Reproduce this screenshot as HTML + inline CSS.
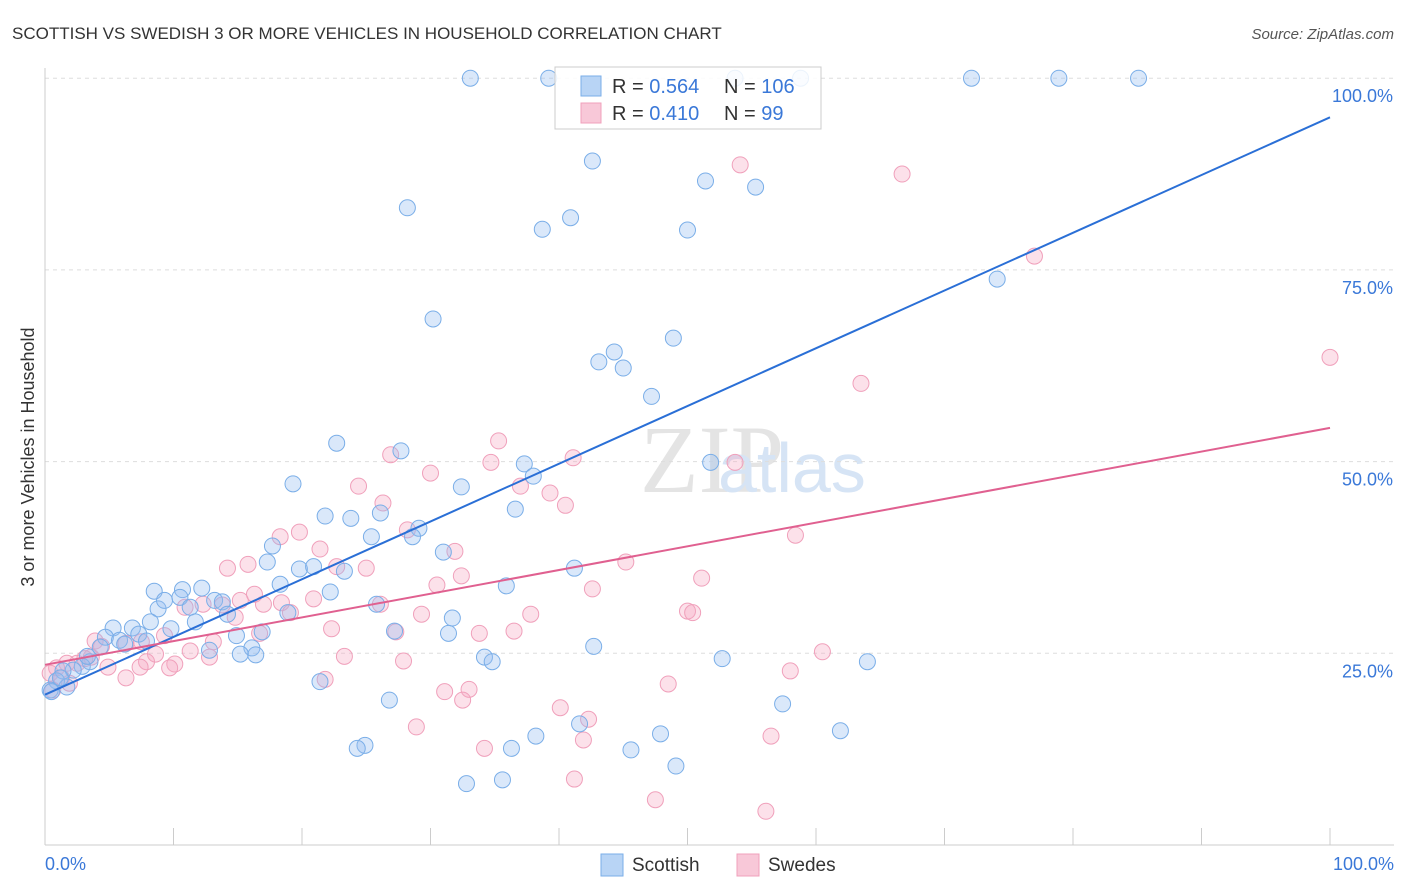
<!DOCTYPE html>
<html><head><meta charset="utf-8"><style>
body{margin:0;background:#fff;font-family:"Liberation Sans",sans-serif;}
svg{display:block}
</style></head><body>
<svg id="chart" width="1406" height="892" xmlns="http://www.w3.org/2000/svg">
<text x="12" y="39" font-size="17" fill="#333">SCOTTISH VS SWEDISH 3 OR MORE VEHICLES IN HOUSEHOLD CORRELATION CHART</text>
<text x="1394" y="39" font-size="15" fill="#555" font-style="italic" text-anchor="end">Source: ZipAtlas.com</text>
<text x="0" y="0" transform="translate(34,457) rotate(-90)" font-size="18" fill="#333" text-anchor="middle">3 or more Vehicles in Household</text>
<text x="640" y="492" font-size="96" fill="#e4e4e4" font-family="Liberation Serif">ZIP</text>
<text x="718" y="492" font-size="70" fill="#d6e4f5">atlas</text>
<g id="grid"></g><g id="marks"></g>
<g>
<rect x="555" y="67" width="266" height="62" fill="rgba(255,255,255,0.85)" stroke="#ccc"/>
<rect x="581" y="76" width="20" height="20" fill="#b8d4f5" stroke="#7aaee8"/>
<rect x="581" y="103" width="20" height="20" fill="#f8c8d8" stroke="#f0a0bb"/>
<text x="612" y="93" font-size="20" fill="#333">R = <tspan fill="#3a78d8">0.564</tspan></text>
<text x="724" y="93" font-size="20" fill="#333">N = <tspan fill="#3a78d8">106</tspan></text>
<text x="612" y="120" font-size="20" fill="#333">R = <tspan fill="#3a78d8">0.410</tspan></text>
<text x="724" y="120" font-size="20" fill="#333">N = <tspan fill="#3a78d8"> 99</tspan></text>
</g>
<g>
<rect x="601" y="854" width="22" height="22" fill="#b8d4f5" stroke="#7aaee8"/>
<text x="632" y="871" font-size="19" fill="#333">Scottish</text>
<rect x="737" y="854" width="22" height="22" fill="#f8c8d8" stroke="#f0a0bb"/>
<text x="768" y="871" font-size="19" fill="#333">Swedes</text>
</g>
<text x="45" y="870" font-size="18" fill="#3a78d8">0.0%</text>
<text x="1394" y="870" font-size="18" fill="#3a78d8" text-anchor="end">100.0%</text>
</svg>
<script>
const yTicks=[25,50,75,100];
const yTickLabels=["25.0%","50.0%","75.0%","100.0%"];
const xTicks=[0,10,20,30,40,50,60,70,80,90,100];
const scottishX=[33.1,39.2,53.7,58.8,72.1,78.9,85.1,42.6,51.4,55.3,28.2,40.9,38.7,50.0,74.1,30.2,48.9,44.3,43.1,45.0,47.2,22.7,27.7,37.3,38.0,51.8,19.3,32.4,36.6,21.8,23.8,26.1,29.1,25.4,28.6,17.7,17.3,31.0,19.8,20.9,23.3,41.2,18.3,22.2,35.9,10.7,12.2,8.5,8.8,9.3,10.5,13.2,13.8,11.3,25.8,14.2,31.7,11.7,9.8,8.2,5.3,6.8,7.3,4.7,5.8,7.9,4.3,6.2,16.9,14.9,27.2,31.4,18.9,12.8,16.1,15.2,16.4,42.7,34.2,34.8,52.7,64.0,3.5,2.9,2.2,1.4,0.9,1.7,0.4,21.4,26.8,57.4,41.6,61.9,38.2,47.9,45.6,24.9,24.3,36.3,49.1,32.8,35.6,3.3,1.2,0.5];
const scottishY=[100,100,100,100,100,100,100,89.2,86.6,85.8,83.1,81.8,80.3,80.2,73.8,68.6,66.1,64.3,63.0,62.2,58.5,52.4,51.4,49.7,48.1,49.9,47.1,46.7,43.8,42.9,42.6,43.3,41.3,40.2,40.2,39.0,36.9,38.2,36.0,36.3,35.7,36.1,34.0,33.0,33.8,33.3,33.5,33.1,30.8,31.9,32.3,31.9,31.7,31.0,31.4,30.1,29.6,29.1,28.2,29.1,28.3,28.3,27.5,27.1,26.7,26.6,25.8,26.2,27.8,27.3,27.9,27.6,30.3,25.4,25.7,24.9,24.8,25.9,24.5,23.9,24.3,23.9,23.9,23.3,22.8,22.7,21.4,20.6,20.2,21.3,18.9,18.4,15.8,14.9,14.2,14.5,12.4,13.0,12.6,12.6,10.3,8.0,8.5,24.6,21.8,20.0];
const swedesX=[54.1,66.7,77.0,100,63.5,35.3,26.9,34.7,41.1,53.7,30.0,37.0,24.4,39.3,26.3,40.5,58.4,28.2,19.8,18.3,21.4,31.9,14.2,15.8,22.7,25.0,32.4,45.2,51.1,30.5,42.6,15.2,16.3,17.0,18.4,26.1,20.9,10.9,12.3,13.8,19.1,29.3,37.8,50.0,50.4,14.8,22.3,27.3,33.8,36.5,16.7,9.3,7.5,6.3,3.9,4.4,13.1,11.3,8.6,3.6,2.5,3.1,1.7,0.9,0.4,1.3,1.9,0.6,7.9,7.4,10.1,9.7,12.8,23.3,27.9,60.5,58.0,21.8,6.3,48.5,33.0,31.1,32.5,40.1,42.3,28.9,41.9,34.2,56.5,41.2,47.5,56.1,4.9];
const swedesY=[88.7,87.5,76.8,63.6,60.2,52.7,50.9,49.9,50.5,49.9,48.5,46.8,46.8,45.9,44.6,44.3,40.4,41.1,40.8,40.2,38.6,38.3,36.1,36.6,36.3,36.1,35.1,36.9,34.8,33.9,33.4,31.9,32.7,31.4,31.6,31.4,32.1,31.0,31.4,31.3,30.3,30.1,30.1,30.5,30.3,29.7,28.2,27.8,27.6,27.9,27.6,27.3,26.5,26.3,26.6,25.9,26.5,25.3,24.9,24.5,23.7,24.3,23.7,23.1,22.4,21.8,21.1,20.2,23.9,23.2,23.6,23.1,24.5,24.6,24.0,25.2,22.7,21.6,21.8,21.0,20.3,20.0,18.9,17.9,16.4,15.4,13.7,12.6,14.2,8.6,5.9,4.4,23.2];
const trendBlue=[19.6,94.9];
const trendPink=[23.5,54.4];
const NS="http://www.w3.org/2000/svg";
const xs=v=>45+v*12.85;
const ys=v=>845-v*7.668;
function mk(tag,attrs,parent){const e=document.createElementNS(NS,tag);for(const k in attrs)e.setAttribute(k,attrs[k]);parent.appendChild(e);return e;}
const grid=document.getElementById('grid'),marks=document.getElementById('marks');
yTicks.forEach((t,i)=>{
  const l=mk('line',{x1:45,x2:1394,y1:ys(t),y2:ys(t),stroke:'#ddd','stroke-dasharray':'4,4'},grid);
  
  
  const tx=mk('text',{x:1393,y:ys(t)+24,'font-size':18,fill:'#3a78d8','text-anchor':'end'},grid);
  tx.textContent=yTickLabels[i];
  
  
});
const ax=mk('line',{x1:45,x2:1394,y1:845,y2:845,stroke:'#ccc'},grid);


const ay=mk('line',{x1:45,x2:45,y1:68,y2:845,stroke:'#ccc'},grid);


xTicks.forEach(t=>{
  const l=mk('line',{x1:xs(t),x2:xs(t),y1:828,y2:845,stroke:'#ccc'},grid);
  
  
});
function pts(X,Y,fill,stroke,name){
  X.forEach((x,i)=>{
    const c=mk('circle',{cx:xs(x),cy:ys(Y[i]),r:8,fill:fill,stroke:stroke,'stroke-width':1},marks);
    
    
  });
}
pts(swedesX,swedesY,'rgba(245,170,195,0.35)','#f0a0bb','swedes-point');
pts(scottishX,scottishY,'rgba(150,190,240,0.35)','#7aaee8','scottish-point');
const tb=mk('line',{x1:xs(0),y1:ys(trendBlue[0]),x2:xs(100),y2:ys(trendBlue[1]),stroke:'#2a6fd6','stroke-width':2},marks);


const tp=mk('line',{x1:xs(0),y1:ys(trendPink[0]),x2:xs(100),y2:ys(trendPink[1]),stroke:'#e06090','stroke-width':2},marks);


</script>
</body></html>
